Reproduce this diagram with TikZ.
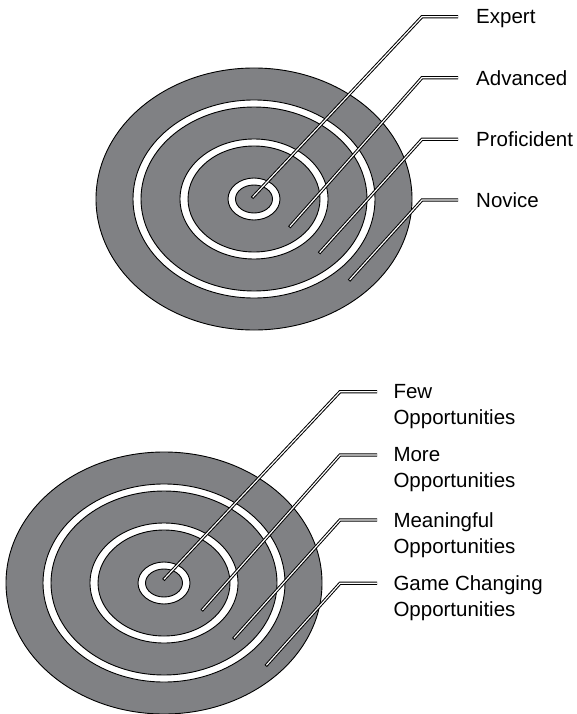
\documentclass[tikz,border=0pt]{standalone}
\usepackage{fontspec}
\setmainfont{Liberation Sans}
\definecolor{targetgray}{RGB}{128,129,132}

\begin{document}
\begin{tikzpicture}[x=1pt, y=-1pt,
    ring/.style={draw=black, line width=0.9pt},
    leader/.style={line width=3.2pt, line join=miter,
      postaction={draw=white, line width=1.2pt, shorten <=1pt}},
    lbl/.style={anchor=north west, inner sep=0pt, align=left,
      font=\fontsize{20.5}{25.5}\selectfont}]
    \useasboundingbox (0,0) rectangle (577,714);

    % Targets: outer disc, then white rings down to the bullseye
    \foreach \cx/\cy/\tname in {254/199/skill, 164/583/chance} {
        \coordinate (\tname) at (\cx,\cy);
        \foreach \rx/\ry/\col in {158/131/targetgray, 121/99/white, 113/92/targetgray,
                                  74/60/white, 66/53/targetgray, 26/21/white, 18.5/14/targetgray}
            \draw[ring, fill=\col] (\tname) ellipse [x radius=\rx pt, y radius=\ry pt];
    }

    % Skill levels
    \foreach \name/\sx/\sy/\by/\txt in {expert/252/198/16.7/Expert,
                                        advanced/289.3/227.3/77.7/Advanced,
                                        proficient/319/253.3/139.3/Proficident,
                                        novice/349/280.7/200/Novice} {
        \coordinate (\name-s) at (\sx,\sy);
        \coordinate (\name-b) at (422,\by);
        \coordinate (\name-e) at (458,\by);
        \node[lbl] (\name) at (476,\by-7.4) {\txt};
        \draw[leader] (\name-s) -- (\name-b) -- (\name-e);
    }

    % Opportunities
    \foreach \name/\sx/\sy/\by/\txt in {few/163.3/580/391.7/{Few\\Opportunities},
                                        more/201.7/610.7/455/{More\\Opportunities},
                                        meaningful/233.3/639/520/{Meaningful\\Opportunities},
                                        gamechanging/265.7/666/583.3/{Game Changing\\Opportunities}} {
        \coordinate (\name-s) at (\sx,\sy);
        \coordinate (\name-b) at (340,\by);
        \coordinate (\name-e) at (377,\by);
        \node[lbl] (\name) at (393.3,\by-7.4) {\txt};
        \draw[leader] (\name-s) -- (\name-b) -- (\name-e);
    }
\end{tikzpicture}
\end{document}
